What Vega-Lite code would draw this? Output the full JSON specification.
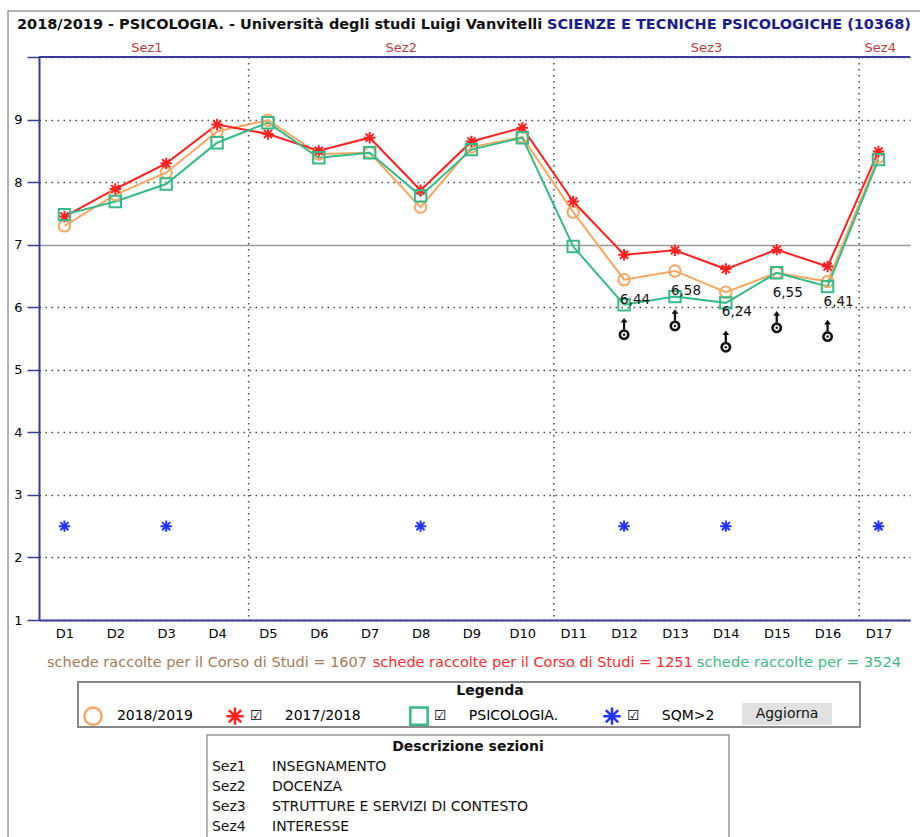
{
  "$schema": "https://vega.github.io/schema/vega-lite/v6.json",
  "width": 871,
  "height": 563,
  "autosize": {"type": "none"},
  "padding": {"left": 39, "top": 57, "right": 10, "bottom": 217},
  "background": "#ffffff",
  "config": {"view": {"stroke": null}, "font": "DejaVu Sans"},
  "datasets": {
    "scores": [
      {"d": "D1", "i": 1, "serie": "2018/2019", "v": 7.30},
      {"d": "D2", "i": 2, "serie": "2018/2019", "v": 7.80},
      {"d": "D3", "i": 3, "serie": "2018/2019", "v": 8.15},
      {"d": "D4", "i": 4, "serie": "2018/2019", "v": 8.81},
      {"d": "D5", "i": 5, "serie": "2018/2019", "v": 8.99},
      {"d": "D6", "i": 6, "serie": "2018/2019", "v": 8.45},
      {"d": "D7", "i": 7, "serie": "2018/2019", "v": 8.47},
      {"d": "D8", "i": 8, "serie": "2018/2019", "v": 7.60},
      {"d": "D9", "i": 9, "serie": "2018/2019", "v": 8.56},
      {"d": "D10", "i": 10, "serie": "2018/2019", "v": 8.72},
      {"d": "D11", "i": 11, "serie": "2018/2019", "v": 7.52},
      {"d": "D12", "i": 12, "serie": "2018/2019", "v": 6.44},
      {"d": "D13", "i": 13, "serie": "2018/2019", "v": 6.58},
      {"d": "D14", "i": 14, "serie": "2018/2019", "v": 6.24},
      {"d": "D15", "i": 15, "serie": "2018/2019", "v": 6.55},
      {"d": "D16", "i": 16, "serie": "2018/2019", "v": 6.41},
      {"d": "D17", "i": 17, "serie": "2018/2019", "v": 8.40},
      {"d": "D1", "i": 1, "serie": "2017/2018", "v": 7.45},
      {"d": "D2", "i": 2, "serie": "2017/2018", "v": 7.89},
      {"d": "D3", "i": 3, "serie": "2017/2018", "v": 8.30},
      {"d": "D4", "i": 4, "serie": "2017/2018", "v": 8.92},
      {"d": "D5", "i": 5, "serie": "2017/2018", "v": 8.77},
      {"d": "D6", "i": 6, "serie": "2017/2018", "v": 8.50},
      {"d": "D7", "i": 7, "serie": "2017/2018", "v": 8.71},
      {"d": "D8", "i": 8, "serie": "2017/2018", "v": 7.87},
      {"d": "D9", "i": 9, "serie": "2017/2018", "v": 8.65},
      {"d": "D10", "i": 10, "serie": "2017/2018", "v": 8.87},
      {"d": "D11", "i": 11, "serie": "2017/2018", "v": 7.69},
      {"d": "D12", "i": 12, "serie": "2017/2018", "v": 6.84},
      {"d": "D13", "i": 13, "serie": "2017/2018", "v": 6.91},
      {"d": "D14", "i": 14, "serie": "2017/2018", "v": 6.61},
      {"d": "D15", "i": 15, "serie": "2017/2018", "v": 6.92},
      {"d": "D16", "i": 16, "serie": "2017/2018", "v": 6.65},
      {"d": "D17", "i": 17, "serie": "2017/2018", "v": 8.49},
      {"d": "D1", "i": 1, "serie": "PSICOLOGIA.", "v": 7.48},
      {"d": "D2", "i": 2, "serie": "PSICOLOGIA.", "v": 7.69},
      {"d": "D3", "i": 3, "serie": "PSICOLOGIA.", "v": 7.97},
      {"d": "D4", "i": 4, "serie": "PSICOLOGIA.", "v": 8.63},
      {"d": "D5", "i": 5, "serie": "PSICOLOGIA.", "v": 8.95},
      {"d": "D6", "i": 6, "serie": "PSICOLOGIA.", "v": 8.39},
      {"d": "D7", "i": 7, "serie": "PSICOLOGIA.", "v": 8.47},
      {"d": "D8", "i": 8, "serie": "PSICOLOGIA.", "v": 7.78},
      {"d": "D9", "i": 9, "serie": "PSICOLOGIA.", "v": 8.52},
      {"d": "D10", "i": 10, "serie": "PSICOLOGIA.", "v": 8.71},
      {"d": "D11", "i": 11, "serie": "PSICOLOGIA.", "v": 6.97},
      {"d": "D12", "i": 12, "serie": "PSICOLOGIA.", "v": 6.04},
      {"d": "D13", "i": 13, "serie": "PSICOLOGIA.", "v": 6.17},
      {"d": "D14", "i": 14, "serie": "PSICOLOGIA.", "v": 6.07},
      {"d": "D15", "i": 15, "serie": "PSICOLOGIA.", "v": 6.55},
      {"d": "D16", "i": 16, "serie": "PSICOLOGIA.", "v": 6.33},
      {"d": "D17", "i": 17, "serie": "PSICOLOGIA.", "v": 8.36},
      {"d": "D1", "i": 1, "serie": "SQM>2", "v": 2.5},
      {"d": "D3", "i": 3, "serie": "SQM>2", "v": 2.5},
      {"d": "D8", "i": 8, "serie": "SQM>2", "v": 2.5},
      {"d": "D12", "i": 12, "serie": "SQM>2", "v": 2.5},
      {"d": "D14", "i": 14, "serie": "SQM>2", "v": 2.5},
      {"d": "D17", "i": 17, "serie": "SQM>2", "v": 2.5}
    ],
    "sections": [
      {"sez": "Sez1", "start": 0.62, "end": 4.62},
      {"sez": "Sez2", "start": 4.62, "end": 10.62},
      {"sez": "Sez3", "start": 10.62, "end": 16.62},
      {"sez": "Sez4", "start": 16.62, "end": 17.45}
    ],
    "counts": [
      {"serie": "2018/2019", "text": "schede raccolte per il Corso di Studi", "n": 1607},
      {"serie": "2017/2018", "text": "schede raccolte per il Corso di Studi", "n": 1251},
      {"serie": "PSICOLOGIA.", "text": "schede raccolte per", "n": 3524}
    ],
    "descr": [
      {"code": "Sez1", "desc": "INSEGNAMENTO"},
      {"code": "Sez2", "desc": "DOCENZA"},
      {"code": "Sez3", "desc": "STRUTTURE E SERVIZI DI CONTESTO"},
      {"code": "Sez4", "desc": "INTERESSE"}
    ],
    "heading": [
      {"year": "2018/2019 - PSICOLOGIA. - Università degli studi Luigi Vanvitelli", "course": "SCIENZE E TECNICHE PSICOLOGICHE (10368)"}
    ],
    "panel": [
      {"legend": "Legenda", "button": "Aggiorna", "descr": "Descrizione sezioni"}
    ]
  },
  "layer": [
    {
      "data": {"name": "panel"},
      "mark": {"type": "rect", "filled": false, "stroke": "#9a9a9a", "strokeWidth": 1.5},
      "encoding": {
        "x": {"datum": -0.109},
        "x2": {"datum": 18.3},
        "y": {"datum": 10.735},
        "y2": {"datum": -2.8}
      }
    },
    {
      "data": {"name": "panel"},
      "mark": {"type": "rule", "color": "#3a3a9e", "strokeWidth": 2},
      "encoding": {"y": {"datum": 10}}
    },
    {
      "data": {"name": "sections"},
      "transform": [{"filter": "datum.end < 17"}],
      "mark": {"type": "rule", "color": "#444444", "strokeWidth": 1.5, "strokeDash": [1.5, 4.5]},
      "encoding": {"x": {"field": "end", "type": "quantitative", "title": null}}
    },
    {
      "data": {"name": "sections"},
      "transform": [{"calculate": "(datum.start + datum.end) / 2", "as": "mid"}],
      "mark": {"type": "text", "color": "#c03a3a", "fontSize": 13, "baseline": "middle", "align": "center"},
      "encoding": {
        "x": {"field": "mid", "type": "quantitative", "title": null},
        "y": {"datum": 10.144},
        "text": {"field": "sez"}
      }
    },
    {
      "data": {"name": "scores"},
      "transform": [{"filter": "datum.serie != 'SQM>2'"}],
      "mark": {"type": "line", "strokeWidth": 2},
      "encoding": {
        "x": {"field": "i", "type": "quantitative", "title": null},
        "y": {"field": "v", "type": "quantitative", "title": null},
        "color": {
          "field": "serie", "type": "nominal",
          "scale": {"domain": ["2018/2019", "2017/2018", "PSICOLOGIA.", "SQM>2"], "range": ["#f7a75f", "#ff2020", "#33bb88", "#2233ff"]}
        }
      }
    },
    {
      "data": {"name": "scores"},
      "mark": {"type": "point", "filled": false, "size": 130, "strokeWidth": 2, "opacity": 1},
      "encoding": {
        "x": {
          "field": "i", "type": "quantitative",
          "scale": {"domain": [0.5, 17.62], "nice": false, "zero": false},
          "axis": {"title": null, "values": [1,2,3,4,5,6,7,8,9,10,11,12,13,14,15,16,17], "labelExpr": "'D' + datum.value", "ticks": false, "grid": false, "domainColor": "#3a3a9e", "domainWidth": 2, "labelFontSize": 13, "labelColor": "#000000", "labelPadding": 7, "labelFont": "DejaVu Sans"}
        },
        "y": {
          "field": "v", "type": "quantitative",
          "scale": {"domain": [1, 10], "nice": false, "zero": false},
          "axis": {
            "title": null, "values": [1,2,3,4,5,6,7,8,9,10], "format": "d",
            "labelExpr": "datum.value == 10 ? '' : datum.label",
            "tickSize": 12, "tickColor": "#3a3a9e", "tickWidth": 1.5,
            "domainColor": "#3a3a9e", "domainWidth": 2,
            "labelPadding": 5, "labelFontSize": 13, "labelColor": "#000000", "labelFont": "DejaVu Sans",
            "grid": true,
            "gridColor": {"condition": {"test": "datum.value == 7", "value": "#999999"}, "value": "#444444"},
            "gridDash": {"condition": {"test": "datum.value == 7", "value": []}, "value": [1.5, 4.5]},
            "gridWidth": 1.5
          }
        },
        "color": {
          "field": "serie", "type": "nominal",
          "scale": {"domain": ["2018/2019", "2017/2018", "PSICOLOGIA.", "SQM>2"], "range": ["#f7a75f", "#ff2020", "#33bb88", "#2233ff"]},
          "legend": {"title": null, "orient": "none", "direction": "horizontal", "columns": 4, "legendX": 44, "legendY": 649, "padding": 0, "symbolSize": 300, "symbolStrokeWidth": 2.5, "labelFontSize": 14, "labelFont": "DejaVu Sans", "labelColor": "#000000", "labelOffset": 5, "columnPadding": 28, "labelLimit": 300, "labelExpr": "datum.label == '2018/2019' ? '\u200b\u00a0\u00a0' + datum.label : datum.label == '2017/2018' ? '\u2611\u00a0\u00a0\u00a0\u00a0\u00a0' + datum.label + '\u00a0\u00a0\u00a0\u2009\u200b' : datum.label == 'PSICOLOGIA.' ? '\u2611\u00a0\u00a0\u00a0\u00a0\u00a0' + datum.label + '\u00a0\u00a0\u2009\u200b' : '\u2611\u00a0\u00a0\u00a0\u00a0\u00a0' + datum.label"}
        },
        "shape": {
          "field": "serie", "type": "nominal",
          "scale": {"domain": ["2018/2019", "2017/2018", "PSICOLOGIA.", "SQM>2"], "range": ["circle", "M-1,0L1,0M0,-1L0,1M-0.71,-0.71L0.71,0.71M-0.71,0.71L0.71,-0.71", "square", "M-1,0L1,0M0,-1L0,1M-0.71,-0.71L0.71,0.71M-0.71,0.71L0.71,-0.71"]},
          "legend": {"title": null, "orient": "none", "direction": "horizontal", "columns": 4, "legendX": 44, "legendY": 649, "padding": 0, "symbolSize": 300, "symbolStrokeWidth": 2.5, "labelFontSize": 14, "labelFont": "DejaVu Sans", "labelColor": "#000000", "labelOffset": 5, "columnPadding": 28, "labelLimit": 300, "labelExpr": "datum.label == '2018/2019' ? '\u200b\u00a0\u00a0' + datum.label : datum.label == '2017/2018' ? '\u2611\u00a0\u00a0\u00a0\u00a0\u00a0' + datum.label + '\u00a0\u00a0\u00a0\u2009\u200b' : datum.label == 'PSICOLOGIA.' ? '\u2611\u00a0\u00a0\u00a0\u00a0\u00a0' + datum.label + '\u00a0\u00a0\u2009\u200b' : '\u2611\u00a0\u00a0\u00a0\u00a0\u00a0' + datum.label"}
        }
      }
    },
    {
      "data": {"name": "scores"},
      "transform": [
        {"filter": "datum.serie == '2018/2019' && datum.v < 7"},
        {"calculate": "replace(format(datum.v, '.2f'), '.', ',')", "as": "lbl"}
      ],
      "layer": [
        {
          "mark": {"type": "text", "align": "left", "baseline": "middle", "dx": -4, "dy": 20, "fontSize": 13.5, "color": "#111111"},
          "encoding": {"text": {"field": "lbl"}}
        },
        {
          "mark": {"type": "point", "shape": "M0,-1L0.6,-0.2L0.2,-0.2L0.2,1L-0.2,1L-0.2,-0.2L-0.6,-0.2Z", "filled": true, "color": "#111111", "size": 130, "opacity": 1, "yOffset": 44}
        },
        {
          "mark": {"type": "point", "shape": "circle", "filled": false, "color": "#111111", "strokeWidth": 2.6, "size": 70, "opacity": 1, "yOffset": 55}
        },
        {
          "mark": {"type": "point", "shape": "circle", "filled": true, "color": "#111111", "size": 6, "opacity": 1, "yOffset": 55}
        }
      ],
      "encoding": {
        "x": {"field": "i", "type": "quantitative", "title": null},
        "y": {"field": "v", "type": "quantitative", "title": null}
      }
    },
    {
      "data": {"name": "heading"},
      "mark": {"type": "text", "align": "left", "baseline": "middle", "fontSize": 14.5, "fontWeight": "bold", "font": "DejaVu Sans", "color": "#111111"},
      "encoding": {
        "x": {"datum": 0.0676},
        "y": {"datum": 10.511},
        "text": {"field": "year"}
      }
    },
    {
      "data": {"name": "heading"},
      "mark": {"type": "text", "align": "left", "baseline": "middle", "fontSize": 14.5, "fontWeight": "bold", "font": "DejaVu Sans", "color": "#1c1c8c"},
      "encoding": {
        "x": {"datum": 10.485},
        "y": {"datum": 10.511},
        "text": {"field": "course"}
      }
    },
    {
      "data": {"name": "counts"},
      "transform": [
        {"filter": "datum.serie == '2018/2019'"},
        {"calculate": "datum.text + ' = ' + datum.n", "as": "lbl"}
      ],
      "mark": {"type": "text", "align": "left", "baseline": "middle", "fontSize": 14.5, "color": "#a57a55"},
      "encoding": {
        "x": {"datum": 0.657},
        "y": {"datum": 0.3126},
        "text": {"field": "lbl"}
      }
    },
    {
      "data": {"name": "counts"},
      "transform": [
        {"filter": "datum.serie == '2017/2018'"},
        {"calculate": "datum.text + ' = ' + datum.n", "as": "lbl"}
      ],
      "mark": {"type": "text", "align": "left", "baseline": "middle", "fontSize": 14.5, "color": "#ff2a2a"},
      "encoding": {
        "x": {"datum": 7.06},
        "y": {"datum": 0.3126},
        "text": {"field": "lbl"}
      }
    },
    {
      "data": {"name": "counts"},
      "transform": [
        {"filter": "datum.serie == 'PSICOLOGIA.'"},
        {"calculate": "datum.text + ' = ' + datum.n", "as": "lbl"}
      ],
      "mark": {"type": "text", "align": "left", "baseline": "middle", "fontSize": 14.7, "color": "#3cbb85"},
      "encoding": {
        "x": {"datum": 13.43},
        "y": {"datum": 0.3126},
        "text": {"field": "lbl"}
      }
    },
    {
      "data": {"name": "panel"},
      "mark": {"type": "rect", "filled": false, "stroke": "#888888", "strokeWidth": 2},
      "encoding": {
        "x": {"datum": 1.2666},
        "x2": {"datum": 16.637},
        "y": {"datum": 0.0089},
        "y2": {"datum": -0.7105}
      }
    },
    {
      "data": {"name": "panel"},
      "mark": {"type": "text", "align": "center", "baseline": "middle", "fontSize": 14, "fontWeight": "bold", "color": "#111111"},
      "encoding": {
        "x": {"datum": 9.365},
        "y": {"datum": -0.135},
        "text": {"field": "legend"}
      }
    },
    {
      "data": {"name": "panel"},
      "mark": {"type": "rect", "fill": "#e1e1e1", "stroke": null},
      "encoding": {
        "x": {"datum": 14.318},
        "x2": {"datum": 16.087},
        "y": {"datum": -0.3268},
        "y2": {"datum": -0.6786}
      }
    },
    {
      "data": {"name": "panel"},
      "mark": {"type": "text", "align": "center", "baseline": "middle", "fontSize": 14, "color": "#111111"},
      "encoding": {
        "x": {"datum": 15.203},
        "y": {"datum": -0.5027},
        "text": {"field": "button"}
      }
    },
    {
      "data": {"name": "panel"},
      "mark": {"type": "rect", "filled": false, "stroke": "#999999", "strokeWidth": 1.5},
      "encoding": {
        "x": {"datum": 3.802},
        "x2": {"datum": 14.062},
        "y": {"datum": -0.8384},
        "y2": {"datum": -2.7}
      }
    },
    {
      "data": {"name": "panel"},
      "mark": {"type": "text", "align": "center", "baseline": "middle", "fontSize": 14, "fontWeight": "bold", "color": "#111111"},
      "encoding": {
        "x": {"datum": 8.932},
        "y": {"datum": -1.03},
        "text": {"field": "descr"}
      }
    },
    {
      "data": {"name": "descr"},
      "transform": [
        {"window": [{"op": "row_number", "as": "r"}]},
        {"calculate": "-1.35 - (datum.r - 1) * 0.3197", "as": "yv"}
      ],
      "layer": [
        {
          "mark": {"type": "text", "align": "left", "baseline": "middle", "fontSize": 14, "color": "#111111"},
          "encoding": {
            "x": {"datum": 3.9},
            "text": {"field": "code"}
          }
        },
        {
          "mark": {"type": "text", "align": "left", "baseline": "middle", "fontSize": 14, "color": "#111111"},
          "encoding": {
            "x": {"datum": 5.08},
            "text": {"field": "desc"}
          }
        }
      ],
      "encoding": {
        "y": {"field": "yv", "type": "quantitative", "title": null}
      }
    }
  ]
}
